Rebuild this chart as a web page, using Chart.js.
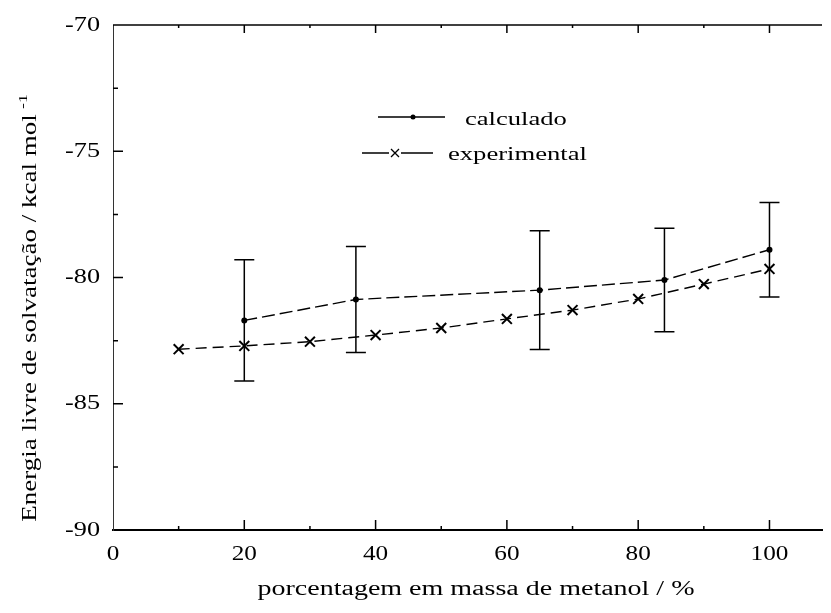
<!DOCTYPE html>
<html>
<head>
<meta charset="utf-8">
<script src="https://cdn.jsdelivr.net/npm/chart.js@4"></script>
<style>
  body { margin: 0; background: #fff; }
  #wrap { width: 831px; height: 613px; position: relative; }
</style>
</head>
<body>
<div id="wrap"><canvas id="chart"></canvas></div>
<script>
// calculated values (with error bars)
const xCalc = [20, 37, 65, 84, 100];
const yCalc = [-81.7, -80.87, -80.5, -80.1, -78.9];
const errCalc = [2.4, 2.1, 2.35, 2.05, 1.87];
// experimental values
const xExp = [10, 20, 30, 40, 50, 60, 70, 80, 90, 100];
const yExp = [-82.84, -82.71, -82.54, -82.28, -82.0, -81.64, -81.29, -80.85, -80.26, -79.66];
// tick labels
const xTicks = [0, 20, 40, 60, 80, 100];
const yTicks = [-70, -75, -80, -85, -90];

const FONT = '"Liberation Serif", "Times New Roman", serif';

// draw text stretched horizontally like the scanned original
function stretchText(ctx, str, x, y, align, sx) {
  ctx.save();
  ctx.translate(x, y);
  ctx.scale(sx, 1);
  ctx.textAlign = align;
  ctx.fillText(str, 0, 0);
  ctx.restore();
}

const errorBars = {
  id: "errorBars",
  afterDatasetsDraw(chart) {
    const ctx = chart.ctx;
    const xs = chart.scales.x;
    const ys = chart.scales.y;
    ctx.save();
    ctx.strokeStyle = "#000";
    ctx.lineWidth = 1.5;
    xCalc.forEach((xv, i) => {
      const px = xs.getPixelForValue(xv);
      const top = ys.getPixelForValue(yCalc[i] + errCalc[i]);
      const bot = ys.getPixelForValue(yCalc[i] - errCalc[i]);
      ctx.beginPath();
      ctx.moveTo(px, top);
      ctx.lineTo(px, bot);
      ctx.moveTo(px - 10, top);
      ctx.lineTo(px + 10, top);
      ctx.moveTo(px - 10, bot);
      ctx.lineTo(px + 10, bot);
      ctx.stroke();
    });
    ctx.restore();
  }
};

const frame = {
  id: "frame",
  afterDraw(chart) {
    const ctx = chart.ctx;
    const xs = chart.scales.x;
    const ys = chart.scales.y;
    const area = chart.chartArea;
    ctx.save();
    ctx.strokeStyle = "#000";
    ctx.fillStyle = "#000";

    // top line
    ctx.lineWidth = 1.5;
    ctx.beginPath();
    ctx.moveTo(area.left, area.top);
    ctx.lineTo(area.right, area.top);
    ctx.stroke();

    // inward ticks on x (bottom and top)
    ctx.lineWidth = 1.5;
    ctx.beginPath();
    xTicks.forEach(v => {
      const px = xs.getPixelForValue(v);
      if (v > 0) {
        ctx.moveTo(px, area.bottom);
        ctx.lineTo(px, area.bottom - 10);
        ctx.moveTo(px, area.top);
        ctx.lineTo(px, area.top + 8);
      }
      const m = xs.getPixelForValue(v + 10);
      if (v + 10 < xs.max) {
        ctx.moveTo(m, area.bottom);
        ctx.lineTo(m, area.bottom - 4);
        ctx.moveTo(m, area.top);
        ctx.lineTo(m, area.top + 3);
      }
    });
    // inward ticks on y
    yTicks.forEach(v => {
      const py = ys.getPixelForValue(v);
      if (v > -90 && v < -70) {
        ctx.moveTo(area.left, py);
        ctx.lineTo(area.left + 10, py);
      }
      if (v > -90) {
        const m = ys.getPixelForValue(v - 2.5);
        ctx.moveTo(area.left, m);
        ctx.lineTo(area.left + 5, m);
      }
    });
    ctx.stroke();

    // tick labels
    ctx.font = "21px " + FONT;
    ctx.textBaseline = "middle";
    yTicks.forEach(v => {
      stretchText(ctx, String(v), area.left - 13, ys.getPixelForValue(v), "right", 1.25);
    });
    xTicks.forEach(v => {
      stretchText(ctx, String(v), xs.getPixelForValue(v), area.bottom + 24, "center", 1.2);
    });

    // x axis title
    ctx.font = "20px " + FONT;
    ctx.textBaseline = "alphabetic";
    stretchText(ctx, "porcentagem em massa de metanol / %", 476, 595, "center", 1.4);

    // y axis title with superscript
    const main = "Energia livre de solvatação / kcal mol";
    const sup = "-1";
    ctx.save();
    ctx.translate(36, 308);
    ctx.rotate(-Math.PI / 2);
    ctx.scale(1.35, 1);
    ctx.font = "20px " + FONT;
    const w1 = ctx.measureText(main).width;
    ctx.font = "13px " + FONT;
    const w2 = ctx.measureText(sup).width;
    const start = -(w1 + 4 + w2) / 2;
    ctx.textAlign = "left";
    ctx.font = "20px " + FONT;
    ctx.fillText(main, start, 0);
    ctx.font = "13px " + FONT;
    ctx.fillText(sup, start + w1 + 4, -9);
    ctx.restore();

    // legend
    ctx.font = "19px " + FONT;
    ctx.textBaseline = "alphabetic";
    stretchText(ctx, "calculado", 465, 125, "left", 1.4);
    stretchText(ctx, "experimental", 448, 160, "left", 1.4);
    ctx.lineWidth = 1.5;
    ctx.beginPath();
    ctx.moveTo(378, 117);
    ctx.lineTo(445, 117);
    ctx.moveTo(362, 153);
    ctx.lineTo(433, 153);
    ctx.stroke();
    ctx.beginPath();
    ctx.arc(413, 117, 2.5, 0, Math.PI * 2);
    ctx.fill();
    ctx.fillStyle = "#fff";
    ctx.fillRect(389, 147, 12, 12);
    ctx.lineWidth = 1.3;
    ctx.beginPath();
    ctx.moveTo(391, 149);
    ctx.lineTo(399, 157);
    ctx.moveTo(399, 149);
    ctx.lineTo(391, 157);
    ctx.stroke();

    ctx.restore();
  }
};

new Chart(document.querySelector("#chart"), {
  type: "line",
  data: {
    datasets: [
      {
        label: "calculado",
        data: xCalc.map((x, i) => ({ x, y: yCalc[i] })),
        borderColor: "#000",
        backgroundColor: "#000",
        borderWidth: 1.4,
        borderDash: [13, 5],
        pointStyle: "circle",
        pointRadius: 3,
        pointBorderWidth: 0
      },
      {
        label: "experimental",
        data: xExp.map((x, i) => ({ x, y: yExp[i] })),
        borderColor: "#000",
        backgroundColor: "#000",
        borderWidth: 1.4,
        borderDash: [11, 6],
        pointStyle: "crossRot",
        pointRadius: 7,
        pointBorderWidth: 2
      }
    ]
  },
  options: {
    responsive: true,
    maintainAspectRatio: false,
    animation: false,
    layout: { padding: { top: 25, right: 3, left: 0, bottom: 0 } },
    plugins: { legend: { display: false }, tooltip: { enabled: false } },
    scales: {
      x: {
        type: "linear",
        min: 0,
        max: 108,
        grid: { display: false },
        border: { display: true, color: "#000", width: 2 },
        ticks: { display: false },
        afterBuildTicks(s) { s.ticks = xTicks.map(v => ({ value: v })); },
        afterFit(s) { s.height = 83; }
      },
      y: {
        type: "linear",
        min: -90,
        max: -70,
        grid: { display: false },
        border: { display: true, color: "#333", width: 1, dash: [1, 3] },
        ticks: { display: false },
        afterBuildTicks(s) { s.ticks = yTicks.map(v => ({ value: v })); },
        afterFit(s) { s.height; s.width = 113; }
      }
    }
  },
  plugins: [errorBars, frame]
});
</script>
</body>
</html>
